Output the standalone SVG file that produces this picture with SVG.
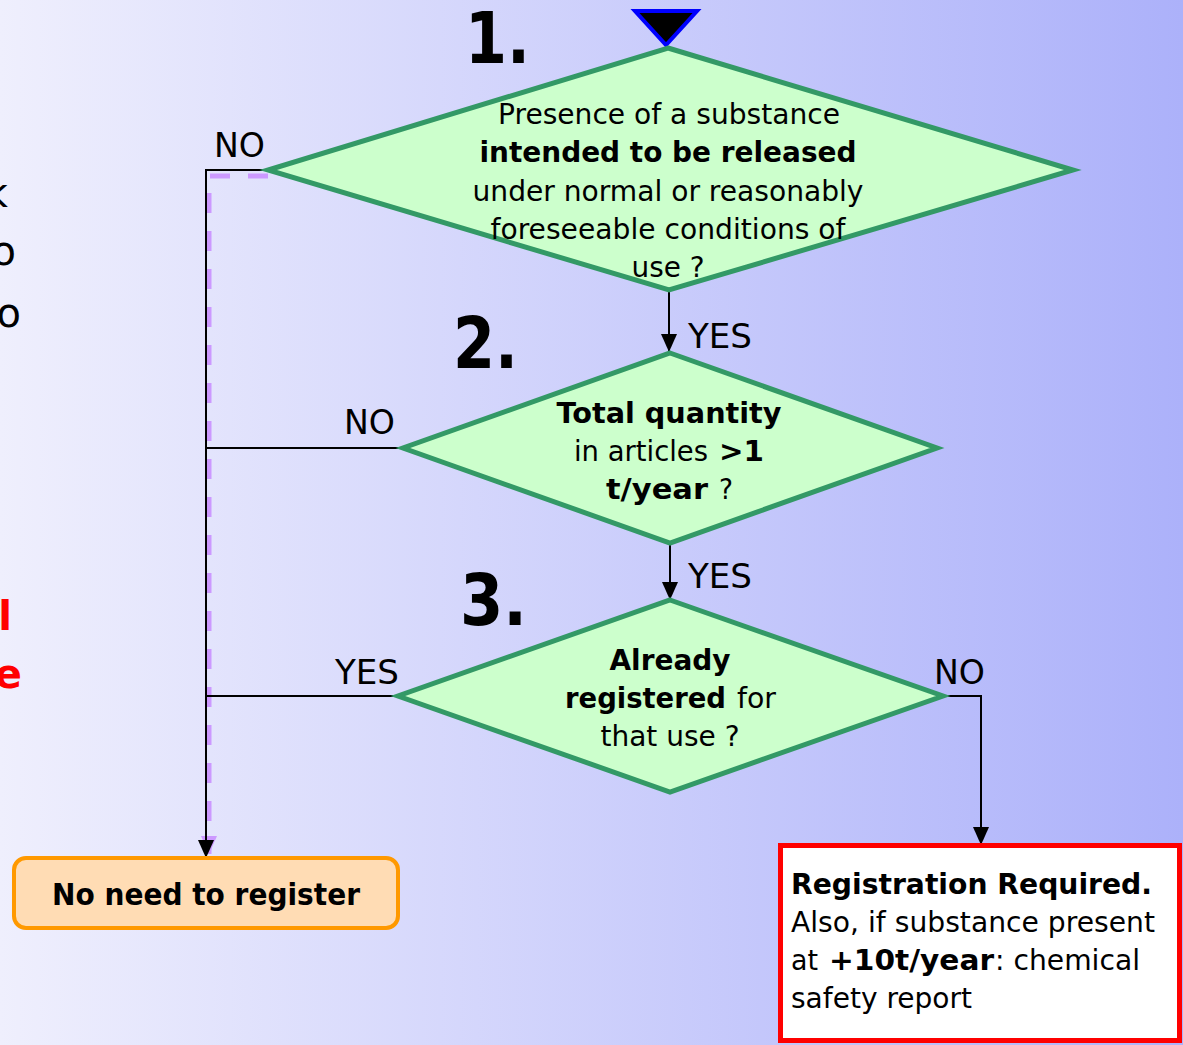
<svg xmlns="http://www.w3.org/2000/svg" width="1183" height="1045" viewBox="0 0 1183 1045">
<defs>
<linearGradient id="bg" x1="0" y1="0" x2="1" y2="0">
<stop offset="0" stop-color="#efeffd"/>
<stop offset="1" stop-color="#acb1fa"/>
</linearGradient>
<marker id="ah" viewBox="0 0 18 16" refX="18" refY="8" markerWidth="18" markerHeight="16" markerUnits="userSpaceOnUse" orient="auto">
<path d="M0,0 L18,8 L0,16 Z" fill="#000"/>
</marker>
<marker id="ahp" viewBox="0 0 18 16" refX="18" refY="8" markerWidth="18" markerHeight="16" markerUnits="userSpaceOnUse" orient="auto">
<path d="M0,0 L18,8 L0,16 Z" fill="#cc99ff"/>
</marker>
<style>
text{font-family:"DejaVu Sans","Liberation Sans",sans-serif;fill:#000}
.t{font-size:29px;text-anchor:middle}
.s{font-size:29px}
.lbl{font-size:34px}
.num{font-size:72px;font-weight:bold}
.b{font-weight:bold}
.dia{fill:#ccffcc;stroke:#339966;stroke-width:5;stroke-linejoin:miter}
.con{fill:none;stroke:#000;stroke-width:2}
.red{fill:#ff0000;font-weight:bold;font-size:40px}
</style>
</defs>
<rect x="0" y="0" width="1183" height="1045" fill="url(#bg)"/>

<g id="cutoff-text">
<text x="8" y="207" style="font-size:40px" text-anchor="end">k</text>
<text x="16" y="265" style="font-size:40px" text-anchor="end">o</text>
<text x="21" y="327" style="font-size:40px" text-anchor="end">o</text>
<text x="12" y="630" class="red" text-anchor="end">l</text>
<text x="22" y="688" class="red" text-anchor="end">e</text>
</g>

<g id="connectors">
<path d="M268,176 H209 V854" fill="none" stroke="#cc99ff" stroke-width="5" stroke-dasharray="20 18" marker-end="url(#ahp)"/>
<path class="con" d="M268,170 H206 V858" marker-end="url(#ah)"/>
<path class="con" d="M403,448 H206"/>
<path class="con" d="M398,696 H206"/>
<path class="con" d="M669,292 V352" marker-end="url(#ah)"/>
<path class="con" d="M670,545 V600" marker-end="url(#ah)"/>
<path class="con" d="M943,696 H981 V845" marker-end="url(#ah)"/>
<text class="lbl" x="214" y="157" textLength="51" lengthAdjust="spacingAndGlyphs">NO</text>
<text class="lbl" x="688" y="348" textLength="64" lengthAdjust="spacingAndGlyphs">YES</text>
<text class="lbl" x="344" y="434" textLength="51" lengthAdjust="spacingAndGlyphs">NO</text>
<text class="lbl" x="688" y="588" textLength="64" lengthAdjust="spacingAndGlyphs">YES</text>
<text class="lbl" x="335" y="684" textLength="64" lengthAdjust="spacingAndGlyphs">YES</text>
<text class="lbl" x="934" y="684" textLength="51" lengthAdjust="spacingAndGlyphs">NO</text>
</g>

<g id="start">
<polygon points="635,11 697,11 666,45" fill="#000" stroke="#0000ff" stroke-width="4"/>
</g>

<g id="step1">
<polygon class="dia" points="668,48 1073,170 669,290 268,170"/>
<text class="num" x="465" y="63" textLength="65" lengthAdjust="spacingAndGlyphs">1.</text>
<text class="t" x="669" y="124" textLength="342" lengthAdjust="spacingAndGlyphs">Presence of a substance</text>
<text class="t b" x="668" y="162" textLength="377" lengthAdjust="spacingAndGlyphs">intended to be released</text>
<text class="t" x="668" y="201" textLength="391" lengthAdjust="spacingAndGlyphs">under normal or reasonably</text>
<text class="t" x="668" y="239" textLength="355" lengthAdjust="spacingAndGlyphs">foreseeable conditions of</text>
<text class="t" x="668" y="277" textLength="73" lengthAdjust="spacingAndGlyphs">use ?</text>
</g>

<g id="step2">
<polygon class="dia" points="670,353 937,448 670,543 403,448"/>
<text class="num" x="453" y="368" textLength="65" lengthAdjust="spacingAndGlyphs">2.</text>
<text class="t b" x="669" y="423" textLength="225" lengthAdjust="spacingAndGlyphs">Total quantity</text>
<text class="s" x="574" y="461" textLength="134" lengthAdjust="spacingAndGlyphs">in articles</text>
<text class="s b" x="719" y="461" textLength="45" lengthAdjust="spacingAndGlyphs">&gt;1</text>
<text class="s b" x="606" y="499" textLength="102" lengthAdjust="spacingAndGlyphs">t/year</text>
<text class="s" x="719" y="499" textLength="14" lengthAdjust="spacingAndGlyphs">?</text>
</g>

<g id="step3">
<polygon class="dia" points="670,600 943,696 670,792 398,696"/>
<text class="num" x="460" y="625" textLength="67" lengthAdjust="spacingAndGlyphs">3.</text>
<text class="t b" x="670" y="670" textLength="121" lengthAdjust="spacingAndGlyphs">Already</text>
<text class="s b" x="565" y="708" textLength="161" lengthAdjust="spacingAndGlyphs">registered</text>
<text class="s" x="737" y="708" textLength="39" lengthAdjust="spacingAndGlyphs">for</text>
<text class="t" x="670" y="746" textLength="139" lengthAdjust="spacingAndGlyphs">that use ?</text>
</g>

<g id="no-need">
<rect x="14" y="858" width="384" height="70" rx="12" fill="#ffdcb4" stroke="#ff9900" stroke-width="4"/>
<text x="52" y="905" style="font-size:30px;font-weight:bold" textLength="308" lengthAdjust="spacingAndGlyphs">No need to register</text>
</g>

<g id="registration">
<rect x="780.5" y="845.5" width="399" height="195" fill="#ffffff" stroke="#ff0000" stroke-width="5"/>
<text class="s b" x="791" y="894" textLength="361" lengthAdjust="spacingAndGlyphs">Registration Required.</text>
<text class="s" x="791" y="932" textLength="364" lengthAdjust="spacingAndGlyphs">Also, if substance present</text>
<text class="s" x="791" y="970" textLength="27" lengthAdjust="spacingAndGlyphs">at</text>
<text class="s b" x="829" y="970" textLength="165" lengthAdjust="spacingAndGlyphs">+10t/year</text>
<text class="s" x="995" y="970" textLength="145" lengthAdjust="spacingAndGlyphs">: chemical</text>
<text class="s" x="791" y="1008" textLength="181" lengthAdjust="spacingAndGlyphs">safety report</text>
</g>
</svg>
